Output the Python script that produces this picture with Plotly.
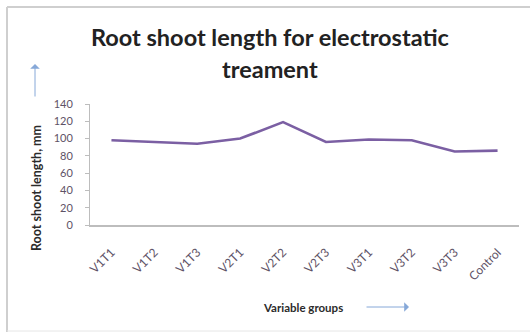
import plotly.graph_objects as go

# Root/shoot length per treatment group (mm)
groups = ["V1T1", "V1T2", "V1T3", "V2T1", "V2T2", "V2T3", "V3T1", "V3T2", "V3T3", "Control"]
root_shoot_mm = [98, 96, 94, 100, 119, 96, 99, 98, 85, 86]
y_ticks = [0, 20, 40, 60, 80, 100, 120, 140]

W, H = 530, 332
L, R, T, B = 90, 11, 104, 107
PW, PH = W - L - R, H - T - B


def px(x):
    return (x - L) / PW


def py(y):
    return (H - B - y) / PH


fig = go.Figure()
fig.add_trace(go.Scatter(
    x=groups, y=root_shoot_mm, mode="lines",
    line=dict(color="#7b5fa3", width=2.6),
    hoverinfo="x+y", showlegend=False,
))

tick_font = dict(family="Lato, Open Sans, sans-serif", size=11, color="#5e5266")

fig.update_layout(
    width=W, height=H,
    margin=dict(l=L, r=R, t=T, b=B),
    paper_bgcolor="white", plot_bgcolor="white",
    xaxis=dict(
        type="category", tickangle=-45, range=[-0.5, len(groups) - 0.5],
        tickfont=dict(tick_font, size=12),
        showgrid=False, showline=True, linecolor="#bdbdbd", linewidth=1.5,
        ticks="", ticklabelstandoff=14, fixedrange=True,
    ),
    yaxis=dict(
        range=[0, 140], tickvals=y_ticks, tickfont=tick_font,
        showgrid=False, showline=True, linecolor="#bdbdbd", linewidth=1,
        ticks="outside", ticklen=4, tickcolor="#bdbdbd",
        ticklabelstandoff=10, zeroline=False, fixedrange=True,
    ),
    annotations=[
        dict(text="<b>Root shoot length for electrostatic</b>", x=px(270), y=py(37),
             xref="paper", yref="paper", showarrow=False, xanchor="center", yanchor="middle",
             font=dict(family="Lato, sans-serif", size=23.5, color="#222222")),
        dict(text="<b>treament</b>", x=px(270), y=py(69),
             xref="paper", yref="paper", showarrow=False, xanchor="center", yanchor="middle",
             font=dict(family="Lato, sans-serif", size=23.5, color="#222222")),
        dict(text="<b>Root shoot length, mm</b>", x=px(36), y=py(188), textangle=-90,
             xref="paper", yref="paper", showarrow=False, xanchor="center", yanchor="middle",
             font=dict(family="Lato, sans-serif", size=12.5, color="#2b2b2b")),
        dict(text="<b>Variable groups</b>", x=px(303), y=py(307),
             xref="paper", yref="paper", showarrow=False, xanchor="center", yanchor="middle",
             font=dict(family="Lato, sans-serif", size=11.5, color="#2b2b2b")),
        # direction arrows next to axis titles
        dict(x=px(35), y=py(64), ax=0, ay=34, xref="paper", yref="paper",
             axref="pixel", ayref="pixel", text="", showarrow=True,
             arrowhead=1, arrowsize=1.6, arrowwidth=1, arrowcolor="#86a8d8"),
        dict(x=px(409), y=py(307), ax=-44, ay=0, xref="paper", yref="paper",
             axref="pixel", ayref="pixel", text="", showarrow=True,
             arrowhead=1, arrowsize=1.6, arrowwidth=1, arrowcolor="#86a8d8"),
    ],
    shapes=[
        # chart frame (left and top edges)
        dict(type="line", xref="paper", yref="paper", x0=px(7), x1=px(7), y0=py(7), y1=py(332),
             line=dict(color="#cfcfcf", width=2)),
        dict(type="line", xref="paper", yref="paper", x0=px(7), x1=px(530), y0=py(7), y1=py(7),
             line=dict(color="#cfcfcf", width=2)),
        dict(type="line", xref="paper", yref="paper", x0=px(7), x1=px(530), y0=py(331), y1=py(331),
             line=dict(color="#e6e6e6", width=1)),
    ],
)

fig.write_html("out.html")
